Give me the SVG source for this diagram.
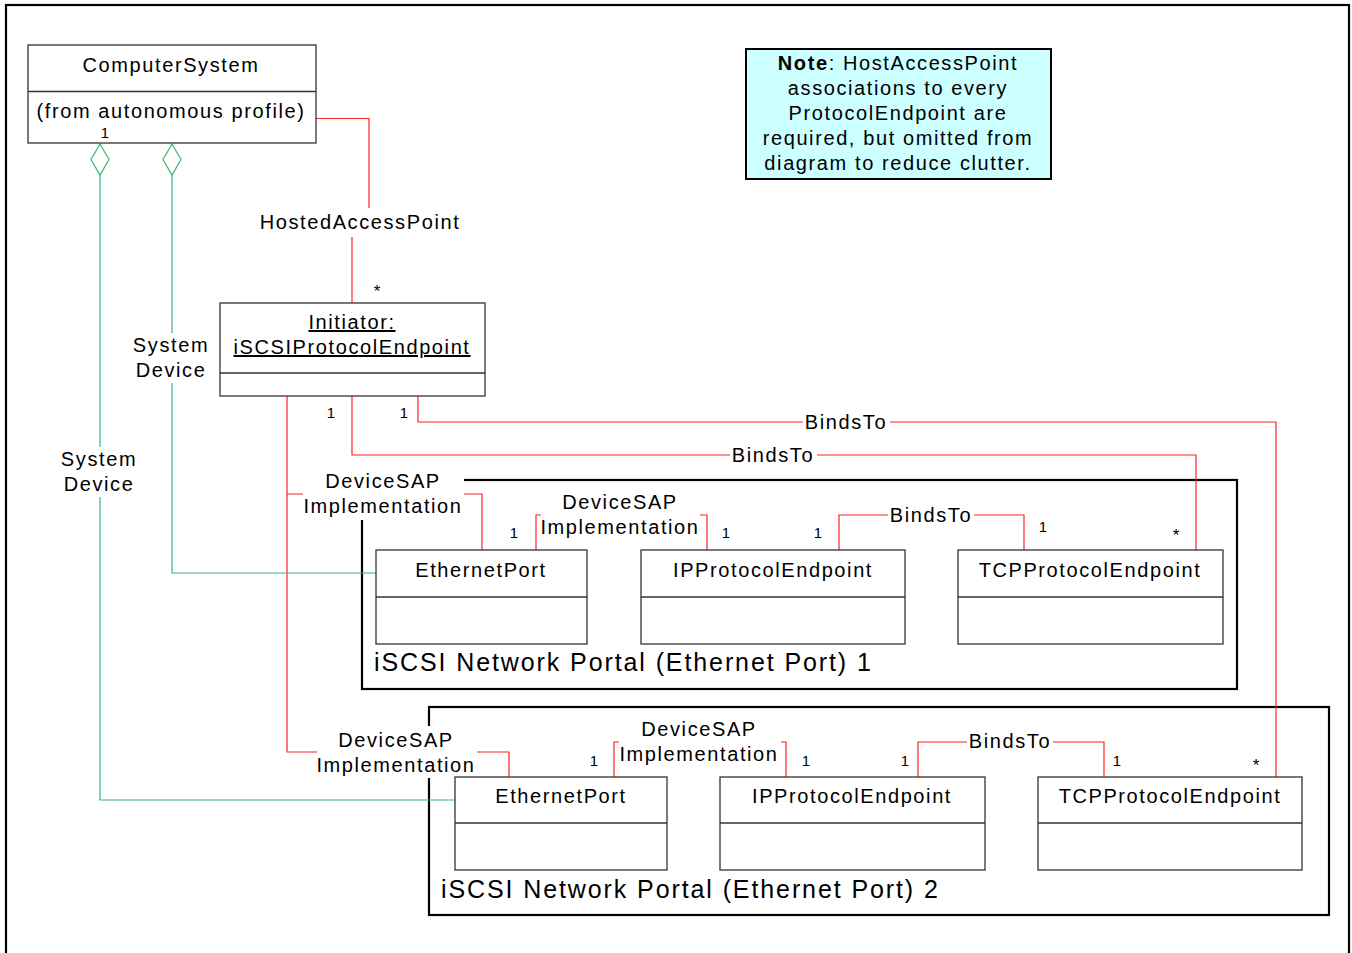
<svg xmlns="http://www.w3.org/2000/svg" width="1352" height="953" viewBox="0 0 1352 953">
<style>
text{font-family:"Liberation Sans",Arial,sans-serif;font-size:20px;letter-spacing:1.6px;fill:#000}
.c{text-anchor:middle}
.s{font-size:15px;letter-spacing:0}
.a{font-size:17px;letter-spacing:0}
.big{font-size:25px;letter-spacing:1.9px}
.box{fill:#fff;stroke:#333;stroke-width:1.3}
.div{stroke:#333;stroke-width:1.3}
.frame{fill:none;stroke:#000;stroke-width:2.2}
.red{fill:none;stroke:#f22;stroke-width:1.2}
.grn{fill:none;stroke:#3cb371;stroke-width:1.2}
.bg{fill:#fff}
</style>
<rect x="0" y="0" width="1352" height="953" fill="#fff"/>
<rect x="6" y="5" width="1343" height="960" class="frame"/>

<g id="portal1">
<rect x="362" y="480" width="875" height="209" class="frame"/>
<text x="374" y="671" class="big">iSCSI Network Portal (Ethernet Port) 1</text>
</g>
<g id="portal2">
<rect x="429" y="707" width="900" height="208" class="frame"/>
<text x="441" y="898" class="big">iSCSI Network Portal (Ethernet Port) 2</text>
</g>

<g id="connectors">
<path class="red" d="M316,118.5 H369 V222 H352 V303"/>
<path class="red" d="M287,396 V494 H482 V550"/>
<path class="red" d="M287,494 V752 H509 V777"/>
<path class="red" d="M352,396 V455 H1196 V550"/>
<path class="red" d="M418,396 V422 H1276 V777"/>
<path class="red" d="M536,550 V515 H707 V550"/>
<path class="red" d="M839,550 V515 H1024 V550"/>
<path class="red" d="M614,777 V742 H786 V777"/>
<path class="red" d="M918,777 V742 H1104 V777"/>
<path class="grn" d="M100,175 V800 H455"/>
<path class="grn" d="M172,175 V573 H376"/>
<path d="M100,144 L109,159.5 L100,175 L91,159.5 Z" fill="#fff" stroke="#3cb371" stroke-width="1.2"/>
<path d="M172,144 L181,159.5 L172,175 L163,159.5 Z" fill="#fff" stroke="#3cb371" stroke-width="1.2"/>

<rect class="bg" x="256" y="208" width="208" height="29"/>
<text x="360" y="229" class="c">HostedAccessPoint</text>
<rect class="bg" x="133" y="333" width="78" height="50"/>
<text x="171" y="352" class="c">System</text>
<text x="171" y="377" class="c">Device</text>
<rect class="bg" x="60" y="447" width="79" height="50"/>
<text x="99" y="466" class="c">System</text>
<text x="99" y="491" class="c">Device</text>
<rect class="bg" x="303" y="466" width="161" height="54"/>
<text x="383" y="488" class="c">DeviceSAP</text>
<text x="383" y="513" class="c">Implementation</text>
<rect class="bg" x="317" y="726" width="160" height="52"/>
<text x="396" y="747" class="c">DeviceSAP</text>
<text x="396" y="772" class="c">Implementation</text>
<rect class="bg" x="541" y="490" width="159" height="50"/>
<text x="620" y="509" class="c">DeviceSAP</text>
<text x="620" y="534" class="c">Implementation</text>
<rect class="bg" x="619" y="717" width="162" height="50"/>
<text x="699" y="736" class="c">DeviceSAP</text>
<text x="699" y="761" class="c">Implementation</text>
<rect class="bg" x="803" y="410" width="87" height="24"/>
<text x="846" y="429" class="c">BindsTo</text>
<rect class="bg" x="730" y="443" width="87" height="24"/>
<text x="773" y="462" class="c">BindsTo</text>
<rect class="bg" x="888" y="503" width="86" height="24"/>
<text x="931" y="522" class="c">BindsTo</text>
<rect class="bg" x="967" y="730" width="86" height="24"/>
<text x="1010" y="748" class="c">BindsTo</text>

<text x="377" y="297" class="a c">*</text>
<text x="331" y="418" class="s c">1</text>
<text x="404" y="418" class="s c">1</text>
<text x="514" y="538" class="s c">1</text>
<text x="726" y="538" class="s c">1</text>
<text x="818" y="538" class="s c">1</text>
<text x="1043" y="532" class="s c">1</text>
<text x="1176" y="541" class="a c">*</text>
<text x="594" y="766" class="s c">1</text>
<text x="806" y="766" class="s c">1</text>
<text x="905" y="766" class="s c">1</text>
<text x="1117" y="766" class="s c">1</text>
<text x="1256" y="771" class="a c">*</text>
</g>

<g id="computersystem">
<rect x="28" y="45" width="288" height="98" class="box"/>
<line x1="28" y1="91.5" x2="316" y2="91.5" class="div"/>
<text x="171" y="72" class="c">ComputerSystem</text>
<text x="171" y="118" class="c">(from autonomous profile)</text>
<text x="105" y="138" class="s c">1</text>
</g>

<g id="initiator">
<rect x="220" y="303" width="265" height="93" class="box"/>
<line x1="220" y1="373" x2="485" y2="373" class="div"/>
<text x="352" y="329" class="c" text-decoration="underline">Initiator:</text>
<text x="352" y="354" class="c" text-decoration="underline">iSCSIProtocolEndpoint</text>
</g>

<g id="note">
<rect x="746" y="49" width="305" height="130" fill="#ccffff" stroke="#000" stroke-width="2"/>
<text x="898" y="70" class="c"><tspan font-weight="bold">Note</tspan>: HostAccessPoint</text>
<text x="898" y="95" class="c">associations to every</text>
<text x="898" y="120" class="c">ProtocolEndpoint are</text>
<text x="898" y="145" class="c">required, but omitted from</text>
<text x="898" y="170" class="c">diagram to reduce clutter.</text>
</g>

<g id="ethernetport1">
<rect x="376" y="550" width="211" height="94" class="box"/>
<line x1="376" y1="597" x2="587" y2="597" class="div"/>
<text x="481" y="577" class="c">EthernetPort</text>
</g>
<g id="ipprotocolendpoint1">
<rect x="641" y="550" width="264" height="94" class="box"/>
<line x1="641" y1="597" x2="905" y2="597" class="div"/>
<text x="773" y="577" class="c">IPProtocolEndpoint</text>
</g>
<g id="tcpprotocolendpoint1">
<rect x="958" y="550" width="265" height="94" class="box"/>
<line x1="958" y1="597" x2="1223" y2="597" class="div"/>
<text x="1090" y="577" class="c">TCPProtocolEndpoint</text>
</g>

<g id="ethernetport2">
<rect x="455" y="777" width="212" height="93" class="box"/>
<line x1="455" y1="823" x2="667" y2="823" class="div"/>
<text x="561" y="803" class="c">EthernetPort</text>
</g>
<g id="ipprotocolendpoint2">
<rect x="720" y="777" width="265" height="93" class="box"/>
<line x1="720" y1="823" x2="985" y2="823" class="div"/>
<text x="852" y="803" class="c">IPProtocolEndpoint</text>
</g>
<g id="tcpprotocolendpoint2">
<rect x="1038" y="777" width="264" height="93" class="box"/>
<line x1="1038" y1="823" x2="1302" y2="823" class="div"/>
<text x="1170" y="803" class="c">TCPProtocolEndpoint</text>
</g>
</svg>
